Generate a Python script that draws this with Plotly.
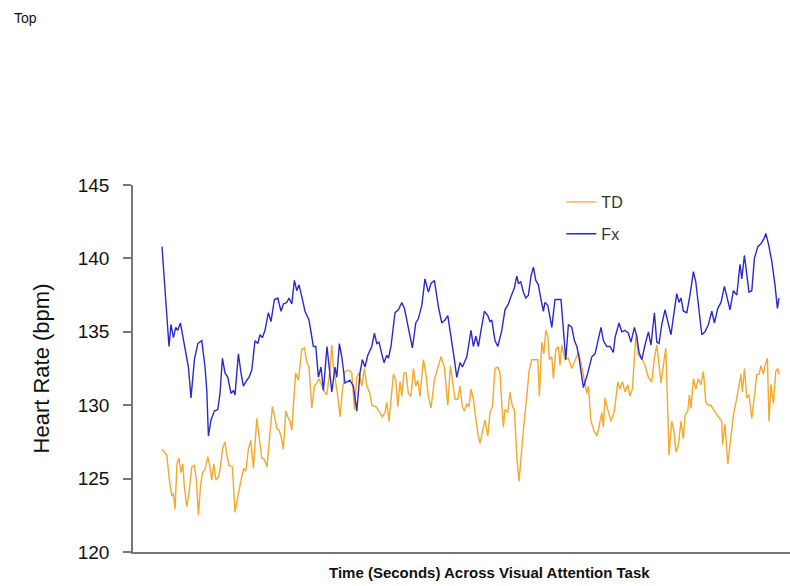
import plotly.graph_objects as go

# Time (s) and heart rate (bpm)
fx_time = [0, 3.5, 4.5, 5.7, 6.9, 7.9, 9.2, 11.5, 13.2, 14.5, 16.2, 17.9, 19.9, 21.5, 22.4, 23.2, 24.5, 26.2, 27.9, 29,
           30.2, 31.5, 32.9, 34.5, 35.7, 36.5, 38.2, 39.5, 40.7, 42.4, 43.5, 44.9, 46.5, 47.9, 49, 50.2, 51.5, 53.2, 54.5, 56.2,
           57.9, 59.5, 60.7, 62.4, 63.5, 64.9, 66.2, 67.4, 68.5, 69.9, 71.5, 73.5, 75.7, 76.9, 78.2, 79.5, 80.7, 82.5, 83.5, 84.9,
           86.5, 87.4, 88.7, 89.9, 91.5, 94, 95.7, 97.4, 99, 100.2, 101.5, 102.9, 104.9, 106.2, 107.4, 108.5, 109.9, 111, 112.4, 113.2,
           114.5, 116.5, 118.2, 119.9, 121.2, 122.4, 123.5, 125.2, 126.9, 128.2, 129.9, 131.5, 133.2, 134.5, 136.2, 138.2, 139.9, 141.5, 142.9, 144.9,
           146.2, 147.4, 149, 150.2, 152.4, 154.5, 155.7, 156.9, 158.2, 159.5, 161.2, 162.9, 164, 164.9, 166.5, 167.9, 169.9, 171.5, 173.2, 174.5,
           176.2, 177.4, 178.2, 179.4, 180.7, 181.9, 183.2, 184.5, 185.7, 186.9, 188.2, 189.5, 190.7, 191.5, 192.9, 194.9, 196.5, 199.5, 200.7, 201.9,
           203.2, 204.9, 206.2, 207.4, 208.2, 210.7, 212.9, 214.9, 216.5, 217.9, 219.5, 220.7, 222.4, 224, 225.7, 226.5, 228.5, 229.9, 231.5, 233.2,
           234.5, 236.2, 237.4, 238.5, 239.9, 241.5, 243.2, 244.5, 246.2, 247.4, 248.5, 249.9, 251.5, 252.9, 254.5, 255.7, 257.4, 258.5, 259.5, 260.7,
           262.4, 264, 265.7, 266.9, 268.5, 269.9, 271.5, 273.2, 274.9, 276.2, 277.9, 279.5, 281.2, 282.4, 284, 285.7, 287.4, 289, 289.9, 291.2,
           292.4, 293.5, 294.9, 296.2, 297.9, 299.5, 301.2, 301.9, 303.2, 304.9, 306.5, 307.7, 308.5]
fx_hr = [140.8, 134.0, 135.5, 134.6, 135.3, 135.1, 135.6, 134.0, 132.6, 130.5, 133.1, 134.2, 134.4, 132.6, 131.0, 127.9, 129.0, 129.6, 129.7, 130.8,
         133.2, 132.2, 131.9, 130.8, 131.0, 130.7, 133.5, 132.2, 131.3, 131.7, 131.9, 132.4, 134.4, 134.2, 134.8, 134.6, 135.1, 136.3, 135.7, 137.2,
         137.3, 136.4, 136.9, 137.0, 137.3, 136.9, 138.5, 137.8, 138.2, 137.4, 136.4, 135.8, 134.0, 134.0, 131.9, 132.6, 131.0, 134.0, 132.6, 130.9,
         132.6, 131.9, 134.2, 133.3, 131.5, 131.7, 131.3, 129.6, 132.2, 133.1, 132.6, 133.4, 134.0, 134.9, 134.2, 134.3, 133.5, 132.9, 133.4, 133.2,
         134.0, 136.3, 136.5, 137.0, 136.6, 135.8, 135.1, 133.9, 135.6, 135.9, 136.8, 138.6, 137.7, 138.3, 138.5, 136.7, 135.6, 135.8, 136.1, 134.4,
         133.1, 131.9, 132.9, 132.6, 133.3, 135.1, 134.0, 134.7, 134.0, 135.1, 136.4, 136.1, 135.7, 135.8, 134.4, 134.0, 135.1, 136.5, 136.9, 137.4,
         138.0, 138.8, 138.3, 138.4, 137.7, 137.3, 137.5, 138.8, 139.4, 138.5, 138.2, 137.2, 136.4, 137.0, 136.8, 135.3, 137.2, 137.2, 135.3, 133.1,
         135.5, 135.3, 134.4, 134.0, 133.5, 131.2, 132.2, 133.3, 133.5, 134.4, 135.3, 134.4, 134.0, 134.0, 133.6, 134.6, 135.6, 135.0, 135.1, 134.9,
         134.3, 135.3, 134.7, 133.6, 133.1, 134.1, 135.0, 134.1, 136.3, 134.3, 134.2, 135.5, 136.5, 135.7, 134.8, 136.0, 137.6, 137.0, 137.3, 136.4,
         136.3, 137.5, 139.1, 138.4, 136.4, 134.8, 135.0, 135.5, 136.4, 135.6, 136.6, 137.0, 138.1, 137.4, 136.5, 137.8, 137.5, 139.6, 138.6, 140.2,
         138.9, 137.7, 137.8, 140.0, 140.8, 141.0, 141.4, 141.7, 141.0, 139.8, 138.2, 136.6, 137.3]

td_time = [0, 2.4, 3.5, 4.9, 5.7, 6.5, 7.5, 8.5, 9.5, 10.4, 11.2, 12.4, 13.5, 14.9, 16.2, 17.2, 18.2, 19.2, 20.2, 21.5,
           22.9, 24, 24.9, 25.9, 27, 28.2, 29, 30.4, 31.5, 32.4, 33.5, 35.2, 36.5, 37.9, 39.5, 40.9, 41.9, 43.2, 44.4, 45.7,
           47.4, 48.5, 49.9, 51.2, 52.5, 54, 55.2, 56.2, 57.4, 58.5, 59.5, 60.7, 61.9, 62.9, 64, 64.9, 66.8, 68.2, 69.9, 71.2,
           72.4, 73.5, 74.9, 76.2, 77.4, 78.5, 79.9, 81.2, 82.4, 84, 84.9, 85.7, 86.5, 87.9, 89, 90.2, 91.5, 93.2, 94.9, 96.2,
           97.4, 98.5, 99.9, 101.2, 102.4, 104, 104.9, 106.9, 108.5, 110.2, 111.5, 112.4, 113.5, 114.9, 115.7, 116.9, 117.9, 119, 119.9, 121,
           122, 123.2, 124.5, 125.7, 126.9, 127.9, 129, 130.7, 131.9, 133.2, 134.5, 136.2, 137.9, 139.5, 141.2, 142.9, 144.2, 145.4, 146.5, 147.9,
           149, 150.2, 151.2, 152.4, 153.5, 154.5, 155.7, 156.5, 157.9, 159, 160.2, 161.5, 162.9, 164, 165.2, 166.5, 167.9, 169, 169.9, 170.7,
           171.5, 172.9, 174, 175.2, 176.2, 177.4, 178.5, 179.5, 180.7, 182.4, 183.5, 184.9, 186.5, 187.9, 188.7, 189.9, 190.9, 191.9, 192.9, 193.7,
           194.9, 195.7, 196.9, 198.2, 199, 199.9, 201.5, 203.2, 204.9, 206.5, 208.2, 209.5, 211.2, 212.4, 213.2, 214.5, 216.2, 217.4, 218.5, 219.9,
           220.7, 221.5, 222.9, 224.5, 226.2, 227.9, 229, 230.2, 231.5, 232.9, 234, 235.2, 236.2, 237, 238.2, 239.9, 241.5, 243.2, 244.9, 246.2,
           247.4, 248.5, 249.5, 250.7, 251.9, 252.9, 253.5, 254.9, 256, 257, 258.2, 259.5, 260.7, 261.5, 262.9, 263.7, 264.5, 265.7, 266.9, 268.2,
           269.5, 270.7, 271.9, 273.2, 274.5, 276.2, 278.2, 279.9, 280.3, 281.5, 282.9, 284, 285.7, 287.4, 288.5, 289.5, 290.2, 291.2, 292.4, 293.5,
           294.9, 296.2, 297.4, 298.5, 299.5, 300.7, 301.5, 302.7, 303.5, 304.5, 305.7, 306.9, 307.9, 308.5]
td_hr = [127.0, 126.6, 125.1, 123.8, 124.0, 122.9, 126.0, 126.4, 125.4, 126.0, 124.4, 123.1, 124.0, 125.8, 125.9, 124.9, 122.5, 124.4, 125.4, 125.6,
         126.5, 125.8, 124.9, 126.0, 124.9, 125.1, 125.6, 127.1, 127.5, 126.6, 125.9, 125.8, 122.7, 123.8, 124.9, 125.7, 125.5, 127.0, 127.6, 125.7,
         129.1, 127.9, 126.4, 126.3, 125.8, 128.1, 129.9, 129.3, 128.4, 128.3, 127.9, 127.0, 129.6, 129.2, 128.9, 128.3, 132.2, 131.7, 133.8, 133.9,
         132.9, 132.6, 129.8, 131.3, 131.5, 131.8, 131.3, 130.9, 130.7, 132.4, 134.1, 132.6, 131.9, 130.6, 129.2, 131.0, 132.3, 132.4, 132.2, 129.7,
         131.9, 132.2, 131.3, 132.5, 131.3, 130.8, 130.0, 129.9, 129.6, 129.2, 129.5, 130.2, 128.9, 130.8, 132.1, 131.7, 129.9, 131.6, 130.6, 132.2,
         132.2, 130.8, 130.6, 132.5, 131.3, 131.7, 130.6, 133.1, 132.2, 130.6, 129.8, 131.7, 132.6, 133.3, 132.6, 130.0, 132.7, 131.4, 130.4, 130.4,
         131.3, 129.9, 129.6, 130.1, 129.9, 131.1, 130.4, 129.5, 128.1, 127.4, 128.2, 129.0, 127.9, 129.5, 129.9, 132.5, 132.6, 132.2, 130.1, 128.5,
         129.7, 129.5, 130.9, 129.9, 129.7, 126.5, 124.8, 126.7, 128.3, 130.6, 132.3, 133.1, 133.1, 133.1, 130.6, 134.3, 133.5, 135.1, 134.7, 133.1,
         133.3, 131.8, 133.8, 134.0, 132.7, 134.1, 133.1, 133.2, 132.5, 133.0, 133.6, 132.9, 131.7, 130.8, 131.3, 128.9, 128.2, 127.9, 128.5, 129.5,
         128.5, 130.5, 129.7, 128.9, 129.6, 131.6, 131.1, 131.6, 130.9, 131.4, 130.6, 131.1, 133.2, 134.8, 133.4, 133.2, 132.7, 131.9, 131.6, 133.2,
         134.1, 132.7, 131.5, 132.7, 133.9, 129.6, 126.6, 128.9, 128.2, 126.8, 127.3, 128.9, 127.7, 129.3, 129.6, 130.7, 129.8, 131.8, 131.1, 131.8,
         131.4, 132.3, 130.2, 130.0, 130.0, 129.6, 129.2, 128.9, 127.3, 128.7, 126.0, 127.3, 129.3, 130.5, 131.4, 132.1, 130.9, 132.5, 130.5, 130.7,
         129.1, 130.7, 132.1, 132.1, 132.7, 132.1, 132.7, 133.2, 128.9, 131.4, 130.1, 132.3, 132.5, 132.1]

y_ticks = [120, 125, 130, 135, 140, 145]

fig = go.Figure()
fig.add_trace(go.Scatter(x=td_time, y=td_hr, mode="lines", name="TD", legendgroup="td",
                         line=dict(color="#F5A82C", width=1.4)))
fig.add_trace(go.Scatter(x=fx_time, y=fx_hr, mode="lines", name="Fx", legendgroup="fx",
                         line=dict(color="#2A2ACC", width=1.4)))

font_family = "Liberation Sans, Arial, sans-serif"
fig.update_layout(
    width=790, height=586,
    margin=dict(l=133, r=0, t=185, b=34),
    paper_bgcolor="white", plot_bgcolor="white",
    font=dict(family=font_family, color="#111111"),
    showlegend=True,
    legend=dict(x=0.652, y=1.0, xanchor="left", yanchor="top", bgcolor="rgba(0,0,0,0)",
                font=dict(size=16, color="#333333"), traceorder="grouped", tracegroupgap=8),
    xaxis=dict(range=[-14.5, 314], showline=True, linecolor="#777777", linewidth=1.5,
               showticklabels=False, ticks="", showgrid=False, zeroline=False),
    yaxis=dict(range=[120, 145], tickvals=y_ticks, showline=True, linecolor="#777777", linewidth=1.5,
               ticks="outside", ticklen=8, tickcolor="#777777", tickwidth=1.5, ticklabelstandoff=10,
               tickfont=dict(size=19, color="#111111"), showgrid=False, zeroline=False,
               title=dict(text="Heart Rate (bpm)", font=dict(size=22, color="#111111"), standoff=22)),
    annotations=[
        dict(text="Top", xref="paper", yref="paper", x=-121/657, y=1 + (185 - 18)/367,
             xanchor="left", yanchor="middle", showarrow=False, font=dict(size=14, color="#111111")),
        dict(text="<b>Time (Seconds) Across Visual Attention Task</b>", xref="paper", yref="paper",
             x=0.542, y=-0.055, xanchor="center", yanchor="middle", showarrow=False,
             font=dict(size=15, color="#111111")),
    ],
)

fig.write_html("out.html", config={"displayModeBar": False},
               post_script="document.body.style.margin='0';document.body.style.overflow='hidden';")
